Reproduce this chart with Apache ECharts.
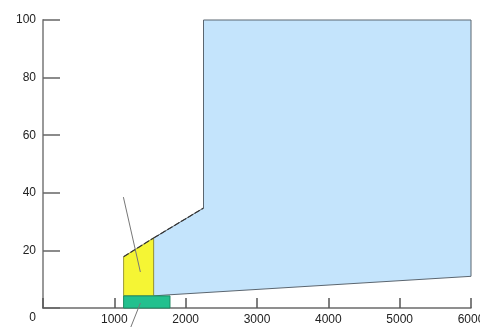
<!DOCTYPE html>
<html>
<head>
<meta charset="utf-8">
<script src="https://cdn.jsdelivr.net/npm/echarts@6/dist/echarts.min.js"></script>
<style>html,body{margin:0;padding:0;background:#fff;}#c{width:480px;height:327px;}</style>
</head>
<body>
<div id="c"></div>
<script>
// Data
var xTicks = [0, 1000, 2000, 3000, 4000, 5000, 6000];
var yTicks = [0, 20, 40, 60, 80, 100];
var blueX = [1550, 1550, 2250, 2250, 6000, 6000, 1780];
var blueY = [4.2, 24.3, 34.7, 100, 100, 11, 4.6];
var yellowX = [1130, 1130, 1550, 1550];
var yellowY = [4.2, 17.8, 24.3, 4.2];
var greenX = [1130, 1130, 1780, 1780];
var greenY = [0, 4.2, 4.2, 0];
var leader1X = [1127, 1365];
var leader1Y = [38.5, 12.5];
var leader2X = [1365, 1225];
var leader2Y = [1.7, -7];

function polySeries(xs, ys, fill, stroke, lw, z) {
  return {
    type: 'custom', clip: false, z: z, silent: true,
    data: [[xs[0], ys[0]]],
    renderItem: function (params, api) {
      var pts = xs.map(function (x, i) { return api.coord([x, ys[i]]); });
      return { type: 'polygon', shape: { points: pts },
        style: { fill: fill, stroke: stroke, lineWidth: lw } };
    }
  };
}
function lineSeries(xs, ys, stroke, lw, z, dash) {
  return {
    type: 'custom', clip: false, z: z, silent: true,
    data: [[xs[0], ys[0]]],
    renderItem: function (params, api) {
      var pts = xs.map(function (x, i) { return api.coord([x, ys[i]]); });
      return { type: 'polyline', shape: { points: pts },
        style: { fill: null, stroke: stroke, lineWidth: lw, lineDash: dash || null } };
    }
  };
}

var chart = echarts.init(document.getElementById('c'));
chart.setOption({
  animation: false,
  backgroundColor: '#ffffff',
  grid: { left: 43, right: 9, top: 20, bottom: 19, containLabel: false, outerBoundsMode: 'none' },
  xAxis: {
    type: 'value', min: xTicks[0], max: xTicks[xTicks.length - 1], interval: 1000,
    splitLine: { show: false },
    axisLine: { show: true, lineStyle: { color: '#6b6b6b', width: 1.5 } },
    axisTick: { show: true, inside: true, length: 10, lineStyle: { color: '#555', width: 1.5 } },
    axisLabel: {
      color: '#222', fontSize: 12, fontFamily: 'Liberation Sans, Arial, sans-serif', margin: 6,
      hideOverlap: false,
      formatter: function (v) { return v === 0 ? '' : String(v); }
    }
  },
  yAxis: {
    type: 'value', min: yTicks[0], max: yTicks[yTicks.length - 1], interval: 20,
    splitLine: { show: false },
    axisLine: { show: true, lineStyle: { color: '#999', width: 2 } },
    axisTick: { show: true, inside: true, length: 17, lineStyle: { color: '#666', width: 1.5 } },
    axisLabel: {
      color: '#222', fontSize: 12, fontFamily: 'Liberation Sans, Arial, sans-serif', margin: 7,
      formatter: function (v) { return v === 0 ? '{z|0}' : String(v); },
      rich: { z: { fontSize: 12, color: '#222', padding: [20, 0, 0, 0] } }
    }
  },
  series: [
    polySeries(blueX, blueY, '#c4e4fc', '#5b6670', 1, 2),
    polySeries(yellowX, yellowY, '#f5f534', '#9c9a3a', 1, 3),
    polySeries(greenX, greenY, '#22c08e', '#1a8a62', 1, 3),
    lineSeries([blueX[1], blueX[2]], [blueY[1], blueY[2]], '#333', 1.2, 4, [6, 2]),
    lineSeries([yellowX[1], yellowX[2]], [yellowY[1], yellowY[2]], '#333', 1.2, 4, [6, 2]),
    lineSeries(leader1X, leader1Y, '#777', 1, 5),
    lineSeries(leader2X, leader2Y, '#777', 1, 5)
  ]
});
</script>
</body>
</html>
